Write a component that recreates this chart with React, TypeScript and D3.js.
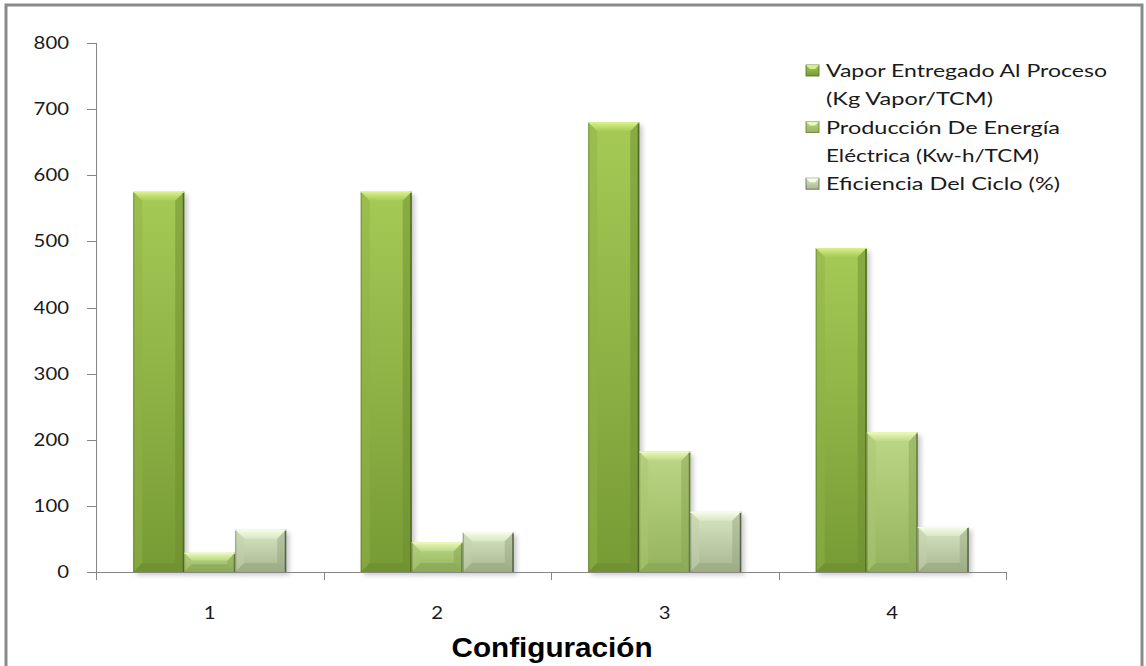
import React from "react";
import * as d3 from "d3";

const categories = ["1", "2", "3", "4"];
const seriesNames = [
  ["Vapor Entregado Al Proceso", "(Kg Vapor/TCM)"],
  ["Producción De Energía", "Eléctrica (Kw-h/TCM)"],
  ["Eficiencia Del Ciclo (%)"],
];
const vaporValues = [575, 575, 680, 490];
const energiaValues = [29, 45, 182, 211];
const eficienciaValues = [64, 60, 91, 68];
const yTicks = [0, 100, 200, 300, 400, 500, 600, 700, 800];
const xTitle = "Configuración";

const W = 1146;
const H = 666;

const palettes = [
  { top: "#a6ca55", bot: "#779b35", cap: "#d8f08c", edge: "#4f6a25", bottom: "#6c8c30", side: "#8fb148" },
  { top: "#bcd887", bot: "#95b35e", cap: "#ebf9b8", edge: "#637b3c", bottom: "#86a352", side: "#a9c672" },
  { top: "#d9e6c3", bot: "#a7b690", cap: "#f6fce8", edge: "#56624a", bottom: "#97a67f", side: "#c2d0ab" },
];

export default function App() {
  React.useEffect(() => {
    document.body.style.margin = "0";
  }, []);

  const x0 = d3.scaleBand<string>().domain(categories).range([96, 1006]).paddingInner(0).paddingOuter(0);
  const groupInner = 153 / 227.5;
  const pad = (1 - groupInner) / 2;
  const x1 = d3
    .scaleBand<number>()
    .domain([0, 1, 2])
    .range([x0.bandwidth() * pad, x0.bandwidth() * (1 - pad)]);
  const y = d3.scaleLinear().domain([0, 800]).range([572, 43]);

  const series = [vaporValues, energiaValues, eficienciaValues];
  const font = "Lato, 'Open Sans', sans-serif";

  const bars: React.ReactNode[] = [];
  series.forEach((vals, si) => {
    vals.forEach((v, ci) => {
      const bx = (x0(categories[ci]) ?? 0) + (x1(si) ?? 0);
      const bw = x1.bandwidth();
      const by = y(v);
      const bh = y(0) - by;
      const p = palettes[si];
      const b = Math.min(9, bh / 2.5, bw / 4);
      bars.push(
        <g key={`b${si}-${ci}`}>
          <rect x={bx + 3} y={by + 3} width={bw} height={bh} fill="#000" opacity={0.22} filter="url(#shadow)" />
          <rect x={bx} y={by} width={bw} height={bh} fill={`url(#grad${si})`} />
          <polygon
            points={`${bx},${by} ${bx + bw},${by} ${bx + bw - b},${by + b} ${bx + b},${by + b}`}
            fill={`url(#cap${si})`}
          />
          <polygon
            points={`${bx},${by} ${bx + b},${by + b} ${bx + b},${by + bh - b} ${bx},${by + bh}`}
            fill={p.side}
            opacity={0.5}
          />
          <polygon
            points={`${bx + bw},${by} ${bx + bw},${by + bh} ${bx + bw - b},${by + bh - b} ${bx + bw - b},${by + b}`}
            fill={p.bottom}
            opacity={0.5}
          />
          <polygon
            points={`${bx},${by + bh} ${bx + b},${by + bh - b} ${bx + bw - b},${by + bh - b} ${bx + bw},${by + bh}`}
            fill={p.bottom}
            opacity={0.6}
          />
          <line x1={bx + bw - 0.75} x2={bx + bw - 0.75} y1={by} y2={by + bh} stroke={p.edge} strokeWidth={1.5} />
          <line x1={bx + 0.5} x2={bx + 0.5} y1={by} y2={by + bh} stroke={p.edge} strokeWidth={1} opacity={0.5} />
          <line x1={bx} x2={bx + bw} y1={by + 0.5} y2={by + 0.5} stroke={p.cap} strokeWidth={1} />
        </g>
      );
    });
  });

  const legendLines: { text: string; si: number; first: boolean }[] = [];
  seriesNames.forEach((lines, si) => lines.forEach((t, li) => legendLines.push({ text: t, si, first: li === 0 })));
  const legendLengths: Record<string, number> = {
    "Vapor Entregado Al Proceso": 281,
    "(Kg Vapor/TCM)": 167,
    "Producción De Energía": 234,
    "Eléctrica (Kw-h/TCM)": 213,
    "Eficiencia Del Ciclo (%)": 234,
  };

  return (
    <div style={{ position: "absolute", left: 0, top: 0 }}>
      <svg width={W} height={H} style={{ display: "block", background: "#fff" }}>
        <defs>
          <filter id="shadow" x="-20%" y="-20%" width="140%" height="140%">
            <feGaussianBlur stdDeviation="2.5" />
          </filter>
          {palettes.map((p, i) => (
            <React.Fragment key={i}>
              <linearGradient id={`grad${i}`} x1="0" y1="0" x2="0" y2="1">
                <stop offset="0" stopColor={p.top} />
                <stop offset="1" stopColor={p.bot} />
              </linearGradient>
              <linearGradient id={`cap${i}`} x1="0" y1="0" x2="0" y2="1">
                <stop offset="0" stopColor={p.cap} />
                <stop offset="1" stopColor={p.top} />
              </linearGradient>
            </React.Fragment>
          ))}
        </defs>

        {/* frame */}
        <rect x={6} y={5} width={1136} height={680} fill="none" stroke="#8a8a8a" strokeWidth={3} />

        {/* y axis */}
        <line x1={96.5} x2={96.5} y1={y(800)} y2={y(0)} stroke="#868686" strokeWidth={1} />
        {yTicks.map((t) => (
          <g key={t}>
            <line x1={87} x2={96} y1={Math.round(y(t)) + 0.5} y2={Math.round(y(t)) + 0.5} stroke="#868686" />
            <text
              x={69}
              y={y(t) + 6}
              textAnchor="end"
              fontFamily={font}
              fontSize={17}
              fill="#1a1a1a"
              textLength={String(t).length * 11.8}
              lengthAdjust="spacingAndGlyphs"
            >
              {t}
            </text>
          </g>
        ))}

        {bars}

        {/* x axis */}
        <line x1={96} x2={1006} y1={572.5} y2={572.5} stroke="#868686" strokeWidth={1} />
        {categories.map((c, i) => {
          const left = x0(c) ?? 0;
          const right = left + x0.bandwidth();
          return (
            <g key={c}>
              <line x1={Math.round(right) + 0.5} x2={Math.round(right) + 0.5} y1={572} y2={580} stroke="#868686" />
              {i === 0 && <line x1={96.5} x2={96.5} y1={572} y2={580} stroke="#868686" />}
              <text
                x={left + x0.bandwidth() / 2}
                y={619}
                textAnchor="middle"
                fontFamily={font}
                fontSize={17}
                fill="#1a1a1a"
                textLength={11.8}
                lengthAdjust="spacingAndGlyphs"
              >
                {c}
              </text>
            </g>
          );
        })}
        <text
          x={552}
          y={657}
          textAnchor="middle"
          fontFamily="'Liberation Sans', Arial, sans-serif"
          fontWeight="bold"
          fontSize={28}
          fill="#000"
          textLength={201}
          lengthAdjust="spacingAndGlyphs"
        >
          {xTitle}
        </text>

        {/* legend */}
        {legendLines.map((l, i) => {
          const baseY = 77 + i * 28.3;
          return (
            <g key={i}>
              {l.first && (
                <g>
                  <rect x={806} y={baseY - 12} width={13} height={11} fill={`url(#grad${l.si})`} stroke={palettes[l.si].edge} strokeWidth={0.8} />
                  <polygon
                    points={`${806},${baseY - 12} ${819},${baseY - 12} ${815},${baseY - 8} ${810},${baseY - 8}`}
                    fill={palettes[l.si].cap}
                  />
                </g>
              )}
              <text
                x={826}
                y={baseY}
                fontFamily={font}
                fontSize={18}
                fill="#1a1a1a"
                textLength={legendLengths[l.text]}
                lengthAdjust="spacingAndGlyphs"
              >
                {l.text}
              </text>
            </g>
          );
        })}
      </svg>
    </div>
  );
}
